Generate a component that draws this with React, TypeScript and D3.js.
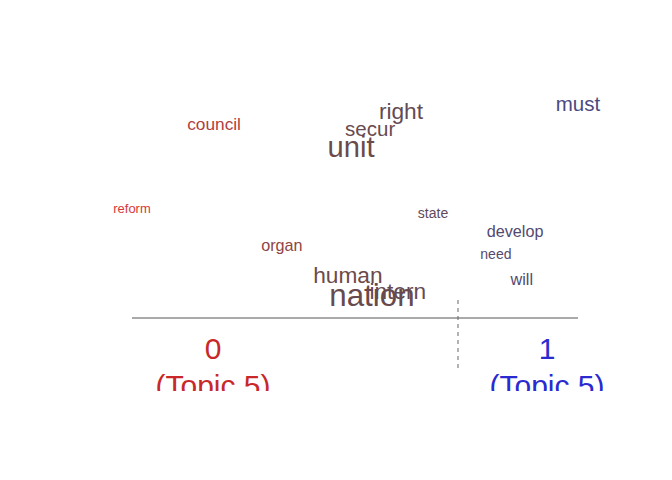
import * as React from "react";
import * as d3 from "d3";

const words = ["must", "right", "council", "secur", "unit", "reform", "state", "develop", "organ", "need", "will", "human", "intern", "nation"];
const xPos = [1.0, 0.603, 0.184, 0.534, 0.491, 0.0, 0.675, 0.859, 0.336, 0.816, 0.874, 0.484, 0.596, 0.538];
const yPos = [0.94, 0.91, 0.85, 0.83, 0.75, 0.48, 0.46, 0.38, 0.32, 0.28, 0.17, 0.19, 0.12, 0.10];
const weight = [19, 21, 16, 19, 27, 12, 13, 15, 15, 13, 15, 21, 21, 29];
const topicLabels = ["0", "1"];

export default function App() {
  const x = d3.scaleLinear().domain([0, 1]).range([132, 578]);
  const y = d3.scaleLinear().domain([0, 1]).range([318, 90]);
  const col = d3
    .scaleLinear<string>()
    .domain([0, 0.5, 1])
    .range(["#d8383a", "#6b4a4a", "#4a4a80"]);
  const font = "'Liberation Sans', Arial, sans-serif";
  return (
    <svg width={672} height={480} style={{ position: "absolute", left: 0, top: 0, background: "#fff" }}>
      <defs>
        <clipPath id="clip">
          <rect x={0} y={0} width={672} height={391} />
        </clipPath>
      </defs>
      <g clipPath="url(#clip)" fontFamily={font}>
        {words.map((w, i) => (
          <text
            key={w}
            x={x(xPos[i])}
            y={y(yPos[i])}
            fontSize={weight[i] * 1.08}
            fill={col(xPos[i])}
            textAnchor="middle"
            dominantBaseline="central"
          >
            {w}
          </text>
        ))}
        <line x1={x(0)} x2={x(1)} y1={318} y2={318} stroke="#555" strokeWidth={1} />
        <line x1={458} x2={458} y1={300} y2={370} stroke="#666" strokeDasharray="4,4" strokeWidth={1} />
        {topicLabels.map((t, i) => (
          <g key={t} fill={i === 0 ? "#c8282a" : "#2a2ad0"} fontSize={30} textAnchor="middle">
            <text x={i === 0 ? 213 : 547} y={359}>{t}</text>
            <text x={i === 0 ? 213 : 547} y={396}>(Topic 5)</text>
          </g>
        ))}
      </g>
    </svg>
  );
}
